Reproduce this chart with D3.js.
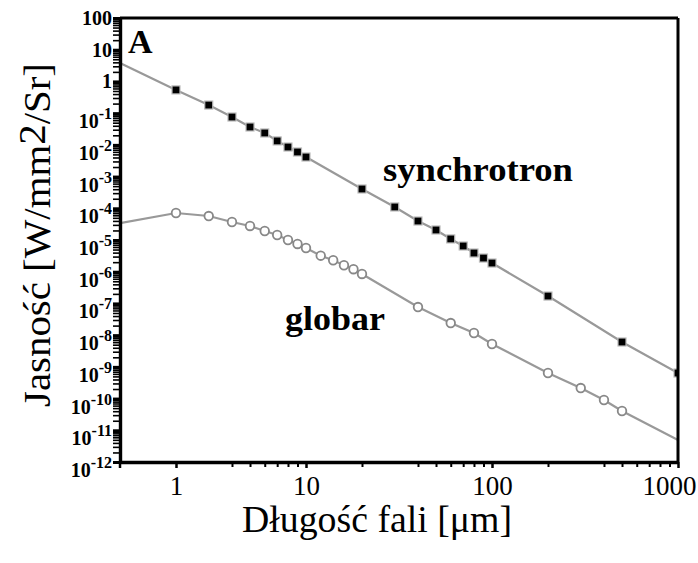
<!DOCTYPE html>
<html>
<head>
<meta charset="utf-8">
<script src="https://cdn.jsdelivr.net/npm/d3@7"></script>
<style>
  html, body { margin: 0; padding: 0; background: #fff; }
  svg text { font-family: "Liberation Serif", "DejaVu Serif", serif; fill: #000; }
</style>
</head>
<body>
<svg id="chart" width="698" height="563"></svg>
<script>
// Wavelength [µm] and brightness [W/mm2/Sr] of the two sources
const synchroLambda = [1, 2, 3, 4, 5, 6, 7, 8, 9, 10, 20, 30, 40, 50, 60, 70, 80, 90, 100, 200, 500, 1000];
const synchroValue  = [3.8, 0.54, 0.18, 0.0755, 0.0366, 0.0237, 0.0133, 0.00855, 0.00596, 0.00414,
                       4.06e-4, 1.10e-4, 3.97e-5, 2.07e-5, 1.08e-5, 6.47e-6, 3.89e-6, 2.70e-6, 1.88e-6,
                       1.71e-7, 6.08e-9, 6.40e-10];
// first synchrotron entry is the curve start only (no marker)
const synchroMarkerFrom = 1;

const globarLambda = [1, 2, 3, 4, 5, 6, 7, 8, 9, 10, 12, 14, 16, 18, 20, 40, 60, 80, 100, 200, 300, 400, 500, 1000];
const globarValue  = [3.4e-5, 7.1e-5, 5.7e-5, 3.7e-5, 2.77e-5, 1.92e-5, 1.44e-5, 1.0e-5, 7.5e-6, 5.6e-6,
                      3.2e-6, 2.3e-6, 1.6e-6, 1.2e-6, 8.5e-7, 7.7e-8, 2.41e-8, 1.17e-8, 5.26e-9,
                      6.4e-10, 2.15e-10, 9.0e-11, 4.06e-11, 4.9e-12];
// first and last globar entries are curve ends only (no marker)
const globarMarkerFrom = 1, globarMarkerTo = globarLambda.length - 1;

// Axis ticks
const xMajorTicks = [2, 10, 100, 1000];
const xTickLabels = ["1", "10", "100", "1000"];
const xMinorTicks = [4, 5, 6, 7, 8, 9, 20, 40, 50, 60, 70, 80, 90, 200, 400, 500, 600, 700, 800, 900];
const yExponents = [2, 1, 0, -1, -2, -3, -4, -5, -6, -7, -8, -9, -10, -11, -12];

const svg = d3.select("#chart");
const mLeft = 120, mRight = 678, mTop = 18, mBottom = 462;

const x = d3.scaleLog().domain([1, 1000]).range([mLeft, mRight]);
const y = d3.scaleLog().domain([1e-12, 100]).range([mBottom, mTop]);

// clip for the plot area
svg.append("defs").append("clipPath").attr("id", "plotClip")
  .append("rect").attr("x", mLeft).attr("y", mTop).attr("width", mRight - mLeft).attr("height", mBottom - mTop);

const plot = svg.append("g").attr("clip-path", "url(#plotClip)");

const line = d3.line().x(d => x(d[0])).y(d => y(d[1]));

const synchro = synchroLambda.map((l, i) => [l, synchroValue[i]]);
const globar = globarLambda.map((l, i) => [l, globarValue[i]]);

plot.append("path").datum(synchro).attr("d", line)
  .attr("fill", "none").attr("stroke", "#999").attr("stroke-width", 2.2);
plot.append("path").datum(globar).attr("d", line)
  .attr("fill", "none").attr("stroke", "#999").attr("stroke-width", 2.2);

// synchrotron: filled squares with a soft grey rim
const sq = 8;
plot.selectAll(".sq").data(synchro.slice(synchroMarkerFrom)).join("rect")
  .attr("x", d => x(d[0]) - sq / 2).attr("y", d => y(d[1]) - sq / 2)
  .attr("width", sq).attr("height", sq)
  .attr("fill", "#000").attr("stroke", "#bbb").attr("stroke-width", 1.2);

// globar: open circles
plot.selectAll(".ci").data(globar.slice(globarMarkerFrom, globarMarkerTo)).join("circle")
  .attr("cx", d => x(d[0])).attr("cy", d => y(d[1])).attr("r", 4.3)
  .attr("fill", "#fff").attr("stroke", "#888").attr("stroke-width", 1.8);

// frame
svg.append("line").attr("x1", mLeft).attr("x2", mRight).attr("y1", mTop).attr("y2", mTop)
  .attr("stroke", "#000").attr("stroke-width", 3);
svg.append("line").attr("x1", mRight).attr("x2", mRight).attr("y1", mTop).attr("y2", mBottom)
  .attr("stroke", "#000").attr("stroke-width", 3);

// y axis: minor ticks (2..9 per decade) and major ticks
const yMinor = [];
for (let e = -12; e < 2; e++) for (let m = 2; m <= 9; m++) yMinor.push(m * Math.pow(10, e));
const yMajor = yExponents.map(e => Math.pow(10, e));

const yAxisMinor = svg.append("g").attr("transform", `translate(${mLeft},0)`)
  .call(d3.axisLeft(y).tickValues(yMinor).tickSize(7).tickFormat(""));
yAxisMinor.select(".domain").remove();
yAxisMinor.selectAll(".tick line").attr("stroke", "#000").attr("stroke-width", 1.6);

const yAxisMajor = svg.append("g").attr("transform", `translate(${mLeft},0)`)
  .call(d3.axisLeft(y).tickValues(yMajor).tickSize(7).tickSizeOuter(0).tickFormat(""));
yAxisMajor.select(".domain").attr("stroke", "#000").attr("stroke-width", 3.4);
yAxisMajor.selectAll(".tick line").attr("stroke", "#000").attr("stroke-width", 3);

// y tick labels
yExponents.forEach(e => {
  const ty = y(Math.pow(10, e));
  const t = svg.append("text").attr("x", 112).attr("text-anchor", "end")
    .attr("font-weight", "bold").attr("font-size", 20);
  if (e >= 0) {
    t.attr("y", ty + 7).text(String(Math.pow(10, e)));
  } else {
    t.attr("y", ty + 15);
    t.append("tspan").text("10");
    t.append("tspan").attr("font-size", 16).attr("dy", -9).text(String(e));
  }
});

// x axis
const xAxisMinor = svg.append("g").attr("transform", `translate(0,${mBottom})`)
  .call(d3.axisBottom(x).tickValues(xMinorTicks).tickSize(5).tickFormat(""));
xAxisMinor.select(".domain").remove();
xAxisMinor.selectAll(".tick line").attr("stroke", "#000").attr("stroke-width", 2);

const xAxisMajor = svg.append("g").attr("transform", `translate(0,${mBottom})`)
  .call(d3.axisBottom(x).tickValues(xMajorTicks).tickSize(6).tickSizeOuter(0)
    .tickFormat((d, i) => xTickLabels[i]));
xAxisMajor.select(".domain").attr("stroke", "#000").attr("stroke-width", 3.4);
xAxisMajor.selectAll(".tick line").attr("stroke", "#000").attr("stroke-width", 2.5);
xAxisMajor.selectAll(".tick text")
  .attr("font-family", "'Liberation Serif', serif").attr("font-size", 27)
  .attr("fill", "#000").attr("y", 14).attr("dy", "0.71em");
// the last label sits against the right edge
xAxisMajor.selectAll(".tick text").filter((d, i) => i === xMajorTicks.length - 1)
  .attr("text-anchor", "end").attr("x", 18);

// extend the y axis a little below the x axis
svg.append("line").attr("x1", mLeft).attr("x2", mLeft).attr("y1", mBottom).attr("y2", mBottom + 6)
  .attr("stroke", "#000").attr("stroke-width", 2.5);

// panel letter and series names
svg.append("text").attr("x", 128).attr("y", 53).attr("font-weight", "bold")
  .attr("font-size", 34).text("A");
svg.append("text").attr("x", 383).attr("y", 181).attr("font-weight", "bold")
  .attr("font-size", 33).attr("textLength", 190).attr("lengthAdjust", "spacingAndGlyphs")
  .text("synchrotron");
svg.append("text").attr("x", 285).attr("y", 330).attr("font-weight", "bold")
  .attr("font-size", 33).attr("textLength", 100).attr("lengthAdjust", "spacingAndGlyphs")
  .text("globar");

// axis titles
svg.append("text").attr("x", 242).attr("y", 532).attr("font-size", 37)
  .attr("textLength", 270).attr("lengthAdjust", "spacingAndGlyphs")
  .text("Długość fali [μm]");

const yt = svg.append("text").attr("transform", "translate(50,407) rotate(-90)")
  .attr("font-size", 37).attr("textLength", 344).attr("lengthAdjust", "spacingAndGlyphs");
yt.append("tspan").text("Jasność [W/mm");
yt.append("tspan").attr("dy", -5).text("2");
yt.append("tspan").attr("dy", 5).text("/Sr]");
</script>
</body>
</html>
